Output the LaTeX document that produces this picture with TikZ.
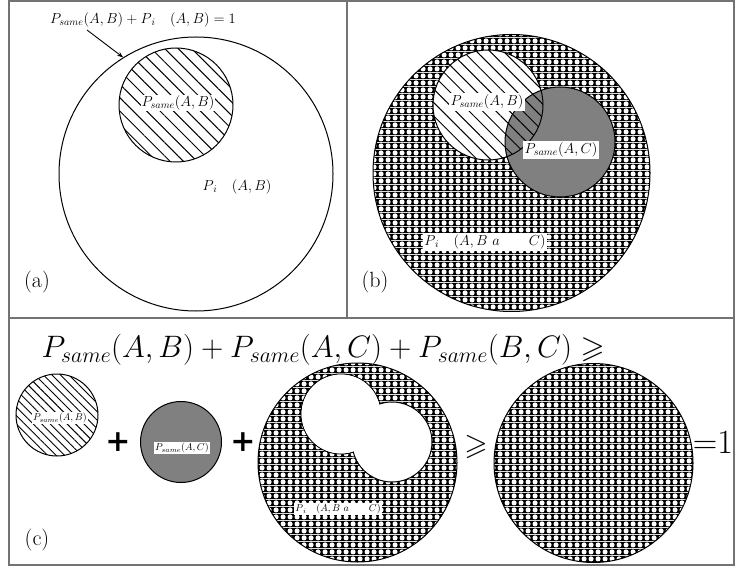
\documentclass[tikz,border=0pt]{standalone}
\usepackage{fix-cm}
\usepackage{amssymb}
\usepackage[no-math]{fontspec}
\newfontfamily\signfont{DejaVu Serif}
\usetikzlibrary{arrows.meta,patterns,patterns.meta}

% white holes on black, the net filling of the outer circles
\pgfdeclarepatterninherentlycolored{holes}{\pgfpointorigin}{\pgfqpoint{7pt}{7pt}}{\pgfqpoint{7pt}{7pt}}{
  \pgfsetfillcolor{black}
  \pgfpathrectangle{\pgfpointorigin}{\pgfqpoint{7pt}{7pt}}\pgfusepath{fill}
  \pgfsetfillcolor{white}
  \pgfpathcircle{\pgfqpoint{3.5pt}{3.5pt}}{2.9pt}\pgfusepath{fill}}

\begin{document}
\begin{tikzpicture}[x=1pt, y=-1pt,
    frame/.style={draw=black!55, line width=1.2pt},
    ring/.style={circle, draw, line width=1pt, inner sep=0pt},
    hatchbig/.style={pattern={Lines[angle=-45, distance=9.5pt, line width=1pt]}},
    hatchsmall/.style={pattern={Lines[angle=-45, distance=6pt, line width=0.9pt]}},
    lab/.style={fill=white, inner sep=1.5pt, font=\fontsize{14.5}{17}\selectfont},
    tinylab/.style={fill=white, inner sep=1pt, font=\fontsize{10}{12}\selectfont},
    panel/.style={font=\rmfamily\fontsize{22}{24}\selectfont},
    bigsign/.style={font=\signfont\bfseries\fontsize{30}{32}\selectfont}
]
\useasboundingbox (0,0) rectangle (735,569);

% frames
\draw[frame] (9,1) rectangle (734,565);
\draw[frame] (9,318) -- (734,318);
\draw[frame] (347,1) -- (347,318);

% (a)
\node[ring, minimum size=274pt] (outA) at (196,174) {};
\node[ring, hatchbig, minimum size=114pt] (sameA) at (176,105) {};
\node[lab, inner sep=0.5pt] (sameAl) at (178,103) {$P_{same}(A,B)$};
\node[lab, fill=none] (difA) at (237,187) {$P_{\,i}\quad(A,B)$};
\node[lab, fill=none] (sumA) at (143,20) {$P_{same}(A,B)+P_{\,i}\quad(A,B)=1$};
\coordinate (tailA) at (87,30);
\draw[-{Stealth[length=6pt]}, line width=0.9pt] (tailA) -- (outA.122);
\node[panel] (la) at (37,282) {(a)};

% (b)
\node[ring, pattern=holes, minimum size=277pt] (outB) at (511.5,173) {};
\node[circle, fill=white, minimum size=110pt, inner sep=0pt] (abB) at (488,105) {};
\node[circle, fill=black!50, minimum size=110pt, inner sep=0pt] (acB) at (560,142) {};
\path[hatchbig] (abB.center) circle (55);
\draw[line width=1pt] (abB.center) circle (55);
\draw[line width=1pt] (acB.center) circle (55);
\node[lab] (abBl) at (487,102) {$P_{same}(A,B)$};
\node[lab] (acBl) at (561,150) {$P_{same}(A,C)$};
\node[lab] (difB) at (485,242) {$P_{\,i}\quad(A,B\ a\qquad C)$};
\node[panel] (lb) at (375,282) {(b)};

% (c)
\node[anchor=west, font=\fontsize{31}{34}\selectfont] (ineq) at (38,350)
  {$P_{same}(A,B)+P_{same}(A,C)+P_{same}(B,C)\geqslant$};
\node[ring, hatchsmall, minimum size=82pt] (c1) at (57,415) {};
\node[tinylab] (c1l) at (60,418) {$P_{same}(A,B)$};
\node[bigsign] (plus1) at (118,442) {+};
\node[ring, fill=black!50, minimum size=81pt] (c2) at (181,442) {};
\node[tinylab] (c2l) at (182,448) {$P_{same}(A,C)$};
\node[bigsign] (plus2) at (243,442) {+};
\node[ring, pattern=holes, minimum size=199pt] (c3) at (357.5,462.5) {};
\draw[fill=white, line width=1pt] (341,414) circle (40);
\draw[fill=white, line width=1pt] (392,442) circle (40);
\fill[white] (341,414) circle (39.4);
\node[tinylab] (c3l) at (338,509) {$P_{\,i}\quad(A,B\ a\qquad C)$};
\node[font=\fontsize{30}{32}\selectfont] (ge) at (476,447) {$\geqslant$};
\node[ring, pattern=holes, minimum size=199pt] (c4) at (593.5,463) {};
\node[font=\rmfamily\fontsize{34}{36}\selectfont] (one) at (713,442) {=1};
\node[panel] (lc) at (37,540) {(c)};
\end{tikzpicture}
\end{document}
